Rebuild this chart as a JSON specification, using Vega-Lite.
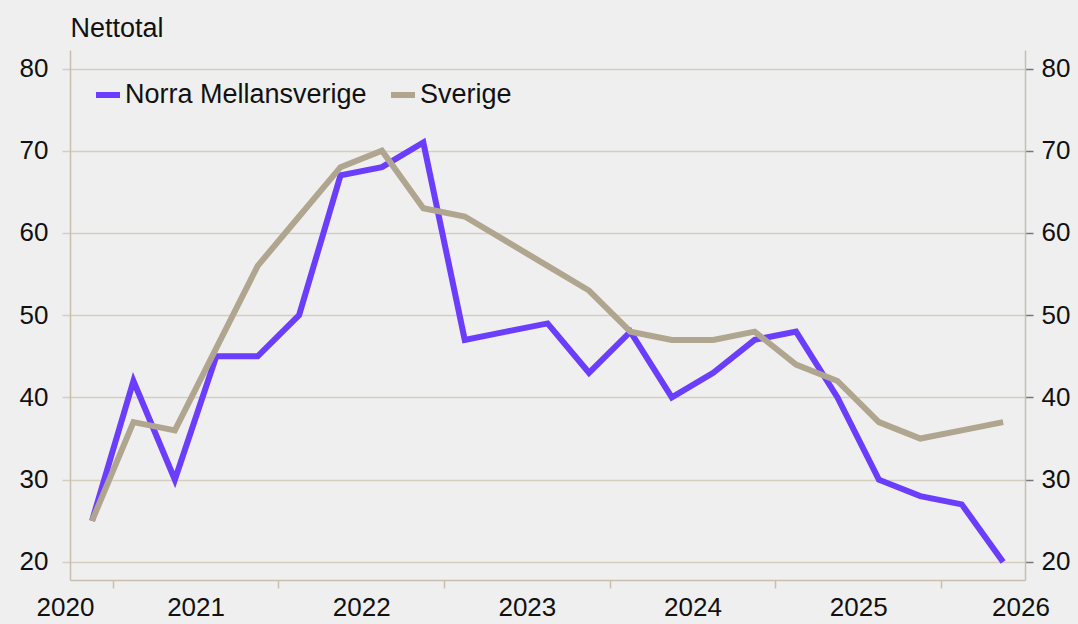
{
  "$schema": "https://vega.github.io/schema/vega-lite/v6.json",
  "autosize": {"type": "none"},
  "width": 955,
  "height": 530,
  "padding": {"left": 70, "top": 50, "right": 53, "bottom": 44},
  "background": "#efefef",
  "config": {
    "view": {"stroke": null},
    "font": "Liberation Sans",
    "axis": {"labelFont": "Liberation Sans", "labelColor": "#111111", "labelFontSize": 26, "titleFont": "Liberation Sans"},
    "legend": {"labelFont": "Liberation Sans"}
  },
  "data": {
    "values": [
      {"t": 2020.875, "serie": "Norra Mellansverige", "v": 25},
      {"t": 2021.125, "serie": "Norra Mellansverige", "v": 42},
      {"t": 2021.375, "serie": "Norra Mellansverige", "v": 30},
      {"t": 2021.625, "serie": "Norra Mellansverige", "v": 45},
      {"t": 2021.875, "serie": "Norra Mellansverige", "v": 45},
      {"t": 2022.125, "serie": "Norra Mellansverige", "v": 50},
      {"t": 2022.375, "serie": "Norra Mellansverige", "v": 67},
      {"t": 2022.625, "serie": "Norra Mellansverige", "v": 68},
      {"t": 2022.875, "serie": "Norra Mellansverige", "v": 71},
      {"t": 2023.125, "serie": "Norra Mellansverige", "v": 47},
      {"t": 2023.375, "serie": "Norra Mellansverige", "v": 48},
      {"t": 2023.625, "serie": "Norra Mellansverige", "v": 49},
      {"t": 2023.875, "serie": "Norra Mellansverige", "v": 43},
      {"t": 2024.125, "serie": "Norra Mellansverige", "v": 48},
      {"t": 2024.375, "serie": "Norra Mellansverige", "v": 40},
      {"t": 2024.625, "serie": "Norra Mellansverige", "v": 43},
      {"t": 2024.875, "serie": "Norra Mellansverige", "v": 47},
      {"t": 2025.125, "serie": "Norra Mellansverige", "v": 48},
      {"t": 2025.375, "serie": "Norra Mellansverige", "v": 40},
      {"t": 2025.625, "serie": "Norra Mellansverige", "v": 30},
      {"t": 2025.875, "serie": "Norra Mellansverige", "v": 28},
      {"t": 2026.125, "serie": "Norra Mellansverige", "v": 27},
      {"t": 2026.375, "serie": "Norra Mellansverige", "v": 20},
      {"t": 2020.875, "serie": "Sverige", "v": 25},
      {"t": 2021.125, "serie": "Sverige", "v": 37},
      {"t": 2021.375, "serie": "Sverige", "v": 36},
      {"t": 2021.625, "serie": "Sverige", "v": 46},
      {"t": 2021.875, "serie": "Sverige", "v": 56},
      {"t": 2022.125, "serie": "Sverige", "v": 62},
      {"t": 2022.375, "serie": "Sverige", "v": 68},
      {"t": 2022.625, "serie": "Sverige", "v": 70},
      {"t": 2022.875, "serie": "Sverige", "v": 63},
      {"t": 2023.125, "serie": "Sverige", "v": 62},
      {"t": 2023.375, "serie": "Sverige", "v": 59},
      {"t": 2023.625, "serie": "Sverige", "v": 56},
      {"t": 2023.875, "serie": "Sverige", "v": 53},
      {"t": 2024.125, "serie": "Sverige", "v": 48},
      {"t": 2024.375, "serie": "Sverige", "v": 47},
      {"t": 2024.625, "serie": "Sverige", "v": 47},
      {"t": 2024.875, "serie": "Sverige", "v": 48},
      {"t": 2025.125, "serie": "Sverige", "v": 44},
      {"t": 2025.375, "serie": "Sverige", "v": 42},
      {"t": 2025.625, "serie": "Sverige", "v": 37},
      {"t": 2025.875, "serie": "Sverige", "v": 35},
      {"t": 2026.125, "serie": "Sverige", "v": 36},
      {"t": 2026.375, "serie": "Sverige", "v": 37}
    ]
  },
  "layer": [
    {
      "transform": [{"filter": "datum.serie === 'Norra Mellansverige'"}],
      "mark": {"type": "line", "strokeWidth": 6, "strokeJoin": "miter"},
      "encoding": {
        "x": {
          "field": "t", "type": "quantitative",
          "scale": {"domain": [2020.742, 2026.507], "nice": false, "zero": false},
          "axis": {
            "orient": "bottom",
            "values": [2021, 2022, 2023, 2024, 2025, 2026],
            "labels": false, "title": null, "grid": false,
            "ticks": true, "tickSize": 8, "tickColor": "#c8bfae", "tickWidth": 1.5,
            "domain": true, "domainColor": "#c8bfae", "domainWidth": 1.5
          }
        },
        "y": {
          "field": "v", "type": "quantitative",
          "scale": {"domain": [17.8, 82.25], "nice": false, "zero": false},
          "axis": {
            "orient": "left",
            "values": [20, 30, 40, 50, 60, 70, 80],
            "grid": true, "gridColor": "#d5cdc0", "gridWidth": 1.5,
            "ticks": true, "tickSize": 8, "tickColor": "#d5cdc0", "tickWidth": 1.5,
            "domain": true, "domainColor": "#c8bfae", "domainWidth": 1.5,
            "labelPadding": 14,
            "title": "Nettotal", "titleAngle": 0, "titleX": 0, "titleY": -14,
            "titleAlign": "left", "titleBaseline": "alphabetic",
            "titleFontSize": 27, "titleFontWeight": "normal", "titleColor": "#111111"
          }
        },
        "color": {
          "field": "serie", "type": "nominal",
          "scale": {"domain": ["Norra Mellansverige", "Sverige"], "range": ["#6a3dff", "#b0a690"]},
          "legend": {
            "title": null, "orient": "none", "direction": "horizontal",
            "legendX": 23, "legendY": 30,
            "symbolType": "stroke", "symbolSize": 576, "symbolStrokeWidth": 6,
            "labelFontSize": 27, "labelColor": "#111111", "labelOffset": 2, "labelLimit": 0,
            "columnPadding": 12
          }
        }
      }
    },
    {
      "transform": [{"filter": "datum.serie === 'Sverige'"}],
      "mark": {"type": "line", "strokeWidth": 6, "strokeJoin": "miter"},
      "encoding": {
        "x": {
          "field": "t", "type": "quantitative",
          "axis": {
            "orient": "bottom",
            "values": [2020.742, 2021.5, 2022.5, 2023.5, 2024.5, 2025.5, 2026.48],
            "labelExpr": "floor(datum.value)",
            "labelOffset": {"condition": {"test": "datum.value < 2021", "value": -5}, "value": 0},
            "labelBound": false, "labelFlush": false, "labelOverlap": false,
            "labelPadding": 14,
            "title": null, "grid": false, "ticks": false, "domain": false
          }
        },
        "y": {
          "field": "v", "type": "quantitative",
          "scale": {"domain": [17.8, 82.25], "nice": false, "zero": false},
          "axis": {
            "orient": "right",
            "values": [20, 30, 40, 50, 60, 70, 80],
            "grid": false,
            "ticks": true, "tickSize": 8, "tickColor": "#777777", "tickWidth": 1.5,
            "domain": true, "domainColor": "#c8bfae", "domainWidth": 1.5,
            "labelPadding": 8, "title": null
          }
        },
        "color": {"field": "serie", "type": "nominal"}
      }
    }
  ],
  "resolve": {"scale": {"y": "independent"}, "axis": {"x": "independent", "y": "independent"}}
}
